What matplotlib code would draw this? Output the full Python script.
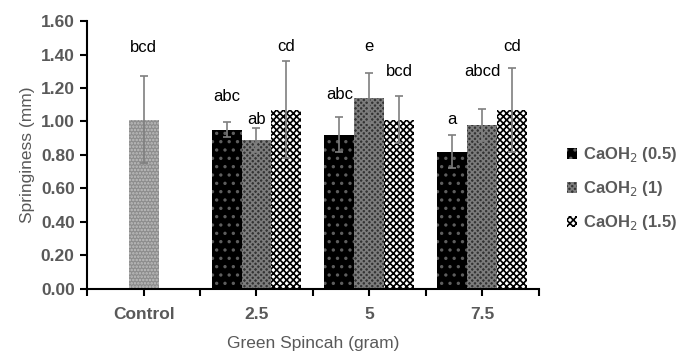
import matplotlib.pyplot as plt
import numpy as np

plt.rcParams['font.family'] = ['Liberation Sans', 'DejaVu Sans']
plt.rcParams['hatch.linewidth'] = 1.2

categories = ['Control', '2.5', '5', '7.5']
series = ['CaOH$_2$ (0.5)', 'CaOH$_2$ (1)', 'CaOH$_2$ (1.5)']

control_val = 1.01
control_err = 0.26
control_letter = 'bcd'
control_letter_y = 1.44

vals_05 = [0.95, 0.92, 0.82]
vals_1 = [0.89, 1.14, 0.98]
vals_15 = [1.07, 1.01, 1.07]
err_05 = [0.045, 0.105, 0.10]
err_1 = [0.07, 0.15, 0.095]
err_15 = [0.29, 0.14, 0.25]
letters_05 = ['abc', 'abc', 'a']
letters_1 = ['ab', 'e', 'abcd']
letters_15 = ['cd', 'bcd', 'cd']
letter_y_05 = [1.15, 1.16, 1.01]
letter_y_1 = [1.01, 1.45, 1.30]
letter_y_15 = [1.45, 1.30, 1.45]

grey = '#595959'
fig = plt.figure(figsize=(6.81, 3.51), dpi=100)
ax = fig.add_axes([0.128, 0.177, 0.663, 0.763])

w = 0.265
errkw = dict(ecolor='#7f7f7f', elinewidth=1.2, capsize=3, capthick=1.2)

# control bar
ax.bar(0, control_val, w, color='#8c8c8c', edgecolor='#c0c0c0', hatch='.....', lw=0,
       yerr=control_err, error_kw=errkw)
ax.text(0, control_letter_y, control_letter, ha='center', va='center', fontsize=12)

x = np.arange(1, 4)
styles = [
    dict(color='black', edgecolor='#5e5e5e', hatch='..'),
    dict(color='#333333', edgecolor='#7c7c7c', hatch='xxxxxx'),
    dict(color='white', edgecolor='black', hatch='xxxxx'),
]
data = [(vals_05, err_05, letters_05, letter_y_05),
        (vals_1, err_1, letters_1, letter_y_1),
        (vals_15, err_15, letters_15, letter_y_15)]
for i, (v, e, lt, ly) in enumerate(data):
    xi = x + (i - 1) * w
    ax.bar(xi, v, w, lw=0, yerr=e, error_kw=errkw, label=series[i], **styles[i])
    for xx, t, yy in zip(xi, lt, ly):
        ax.text(xx, yy, t, ha='center', va='center', fontsize=12)

ax.set_xlim(-0.5, 3.5)
ax.set_ylim(0, 1.6)
ax.set_yticks(np.arange(0, 1.61, 0.2))
ax.set_yticklabels([f'{t:.2f}' for t in np.arange(0, 1.61, 0.2)])
ax.set_xticks(range(4))
ax.set_xticklabels(categories)
ax.set_xticks(np.arange(-0.5, 3.6, 1), minor=True)
ax.tick_params(axis='x', which='both', length=5, width=1.5, color='black', pad=8)
ax.tick_params(axis='y', length=5, width=1.5, pad=4)
ax.tick_params(axis='both', which='major', labelsize=12.5, labelcolor=grey)
for lbl in ax.get_xticklabels() + ax.get_yticklabels():
    lbl.set_fontweight('bold')

for s in ['top', 'right']:
    ax.spines[s].set_visible(False)
for s in ['left', 'bottom']:
    ax.spines[s].set_linewidth(1.5)

ax.set_ylabel('Springiness (mm)', fontsize=12.5, color=grey, labelpad=4)
ax.set_xlabel('Green Spincah (gram)', fontsize=12.5, color=grey, labelpad=10)

leg = ax.legend(loc='center left', bbox_to_anchor=(1.03, 0.373), frameon=False,
                fontsize=12, handlelength=0.6, handleheight=0.6, handletextpad=0.35,
                labelspacing=0.9)
for t in leg.get_texts():
    t.set_color(grey)
    t.set_fontweight('bold')

fig.savefig('out.png', dpi=100)
